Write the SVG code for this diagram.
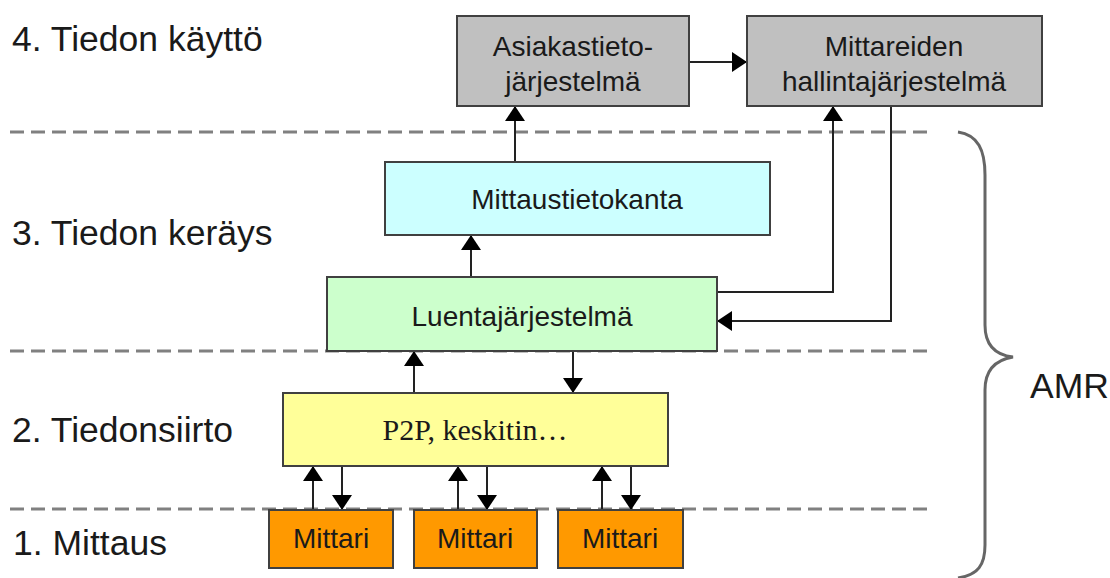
<svg xmlns="http://www.w3.org/2000/svg" width="1110" height="578" viewBox="0 0 1110 578">
<defs>
<marker id="ah" viewBox="0 0 15 20" refX="15" refY="10" markerWidth="15" markerHeight="20" markerUnits="userSpaceOnUse" orient="auto">
<path d="M0,0 L15,10 L0,20 z" fill="#000"/>
</marker>
</defs>
<style>
.lbl{font-family:"Liberation Sans",Arial,sans-serif;font-size:35.5px;fill:#1a1a1a}
.t{font-family:"Liberation Sans",Arial,sans-serif;font-size:28px;fill:#1a1a1a;text-anchor:middle}
.ts{font-family:"Liberation Serif","Times New Roman",serif;font-size:30px;fill:#1a1a1a;text-anchor:middle}
.box{stroke:#404040;stroke-width:2}
.dash{stroke:#808080;stroke-width:3;stroke-dasharray:14 7;fill:none}
.c{stroke:#222;stroke-width:2;fill:none}
.brace{stroke:#666;stroke-width:3;fill:none}
</style>
<rect width="1110" height="578" fill="#fff"/>
<g id="layers">
<text class="lbl" x="12" y="51">4. Tiedon käyttö</text>
<text class="lbl" x="12" y="245">3. Tiedon keräys</text>
<text class="lbl" x="12" y="442">2. Tiedonsiirto</text>
<text class="lbl" x="13" y="555">1. Mittaus</text>
<line class="dash" x1="10" y1="132" x2="930" y2="132"/>
<line class="dash" x1="10" y1="351" x2="930" y2="351"/>
<line class="dash" x1="10" y1="509" x2="930" y2="509"/>
</g>
<g id="connectors">
<path class="c" d="M689,62 H747" marker-end="url(#ah)"/>
<path class="c" d="M515,162 V106" marker-end="url(#ah)"/>
<path class="c" d="M471,277 V235" marker-end="url(#ah)"/>
<path class="c" d="M717,292 H833 V106" marker-end="url(#ah)"/>
<path class="c" d="M891,106 V321 H717" marker-end="url(#ah)"/>
<path class="c" d="M414,393 V351" marker-end="url(#ah)"/>
<path class="c" d="M573,351 V393" marker-end="url(#ah)"/>
<path class="c" d="M313,510 V466" marker-end="url(#ah)"/>
<path class="c" d="M342,466 V510" marker-end="url(#ah)"/>
<path class="c" d="M458,510 V466" marker-end="url(#ah)"/>
<path class="c" d="M487,466 V510" marker-end="url(#ah)"/>
<path class="c" d="M602,510 V466" marker-end="url(#ah)"/>
<path class="c" d="M631,466 V510" marker-end="url(#ah)"/>
</g>
<g id="asiakastieto">
<rect class="box" x="457" y="16" width="232" height="90" fill="#C0C0C0"/>
<text class="t" x="573" y="56">Asiakastieto-</text>
<text class="t" x="573" y="91">järjestelmä</text>
</g>
<g id="mittareiden">
<rect class="box" x="747" y="16" width="295" height="90" fill="#C0C0C0"/>
<text class="t" x="894" y="56">Mittareiden</text>
<text class="t" x="894" y="91">hallintajärjestelmä</text>
</g>
<g id="mittaustietokanta">
<rect class="box" x="385" y="162" width="385" height="73" fill="#CCFFFF"/>
<text class="t" x="577" y="209">Mittaustietokanta</text>
</g>
<g id="luenta">
<rect class="box" x="327" y="277" width="390" height="74" fill="#CCFFCC"/>
<text class="t" x="522" y="326">Luentajärjestelmä</text>
</g>
<g id="p2p">
<rect class="box" x="283" y="393" width="385" height="73" fill="#FFFF99"/>
<text class="ts" x="475" y="440">P2P, keskitin…</text>
</g>
<g id="mittari1">
<rect class="box" x="269" y="510" width="124" height="58" fill="#FF9900"/>
<text class="t" x="331" y="548">Mittari</text>
</g>
<g id="mittari2">
<rect class="box" x="414" y="510" width="123" height="58" fill="#FF9900"/>
<text class="t" x="475" y="548">Mittari</text>
</g>
<g id="mittari3">
<rect class="box" x="558" y="510" width="125" height="58" fill="#FF9900"/>
<text class="t" x="620" y="548">Mittari</text>
</g>
<g id="amr">
<path class="brace" d="M958,132 C978,135 985,150 985,175 L985,325 C985,345 995,355 1013,357 C995,360 985,370 985,390 L985,545 C985,565 978,575 958,578"/>
<text class="lbl" x="1030" y="398">AMR</text>
</g>
</svg>
